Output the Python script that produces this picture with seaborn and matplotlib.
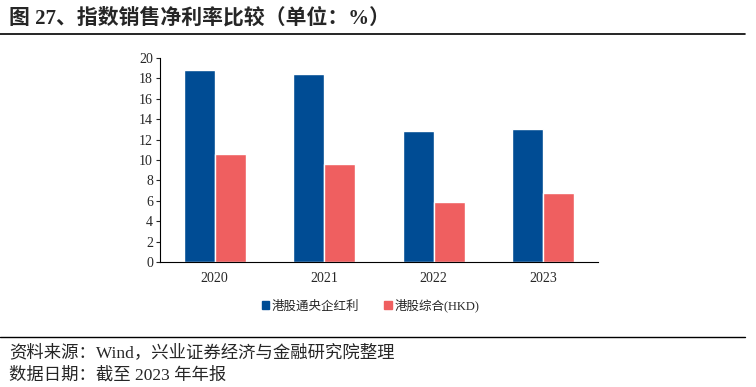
import matplotlib
matplotlib.use('Agg')
import matplotlib.pyplot as plt
import seaborn as sns
import pandas as pd
from matplotlib.patches import Patch

# Data
years = ['2020', '2021', '2022', '2023']
dividend = [18.8, 18.4, 12.85, 13.07]
composite = [10.56, 9.57, 5.85, 6.73]
series_names = ['港股通央企红利', '港股综合(HKD)']
colors = ['#004C94', '#EF5F60']

sns.set_style('white')
plt.rcParams['font.family'] = ['Liberation Serif', 'Noto Sans CJK SC']

df = pd.DataFrame({
    'year': years * 2,
    'value': dividend + composite,
    'series': [series_names[0]] * 4 + [series_names[1]] * 4,
})

fig = plt.figure(figsize=(7.56, 3.87), dpi=100)
ax = fig.add_axes([0.2116, 0.323, 0.5794, 0.527])
sns.barplot(data=df, x='year', y='value', hue='series', palette=colors,
            width=0.565, saturation=1, ax=ax, legend=False)

ax.set_ylim(0, 20)
ax.set_yticks(range(0, 21, 2))
ax.set_xlabel('')
ax.set_ylabel('')
for s in ['top', 'right']:
    ax.spines[s].set_visible(False)
for s in ['left', 'bottom']:
    ax.spines[s].set_color('black')
    ax.spines[s].set_linewidth(0.8)
ax.tick_params(axis='y', left=True, length=3, width=0.8, labelsize=10, pad=2)
ax.tick_params(axis='x', bottom=False, labelsize=10, pad=4)

handles = [Patch(color=c, label=n) for c, n in zip(colors, series_names)]
fig.legend(handles=handles, loc='center', bbox_to_anchor=(0.49, 0.21), ncol=2,
           frameon=False, fontsize=9, handlelength=0.6, handleheight=0.6,
           handletextpad=0.2, columnspacing=2.0)

# Header / footer
fig.text(0.012, 0.952, '图 27、指数销售净利率比较（单位：%）', fontsize=15,
         fontweight='bold', va='center')
fig.add_artist(plt.Line2D([0, 0.986], [0.913, 0.913], color='black', lw=1.2))
fig.add_artist(plt.Line2D([0, 0.986], [0.128, 0.128], color='black', lw=1.0))
fig.text(0.012, 0.088, '资料来源：Wind，兴业证券经济与金融研究院整理', fontsize=12.5, va='center')
fig.text(0.012, 0.030, '数据日期：截至 2023 年年报', fontsize=12.5, va='center')

fig.savefig('out.png', dpi=100)
